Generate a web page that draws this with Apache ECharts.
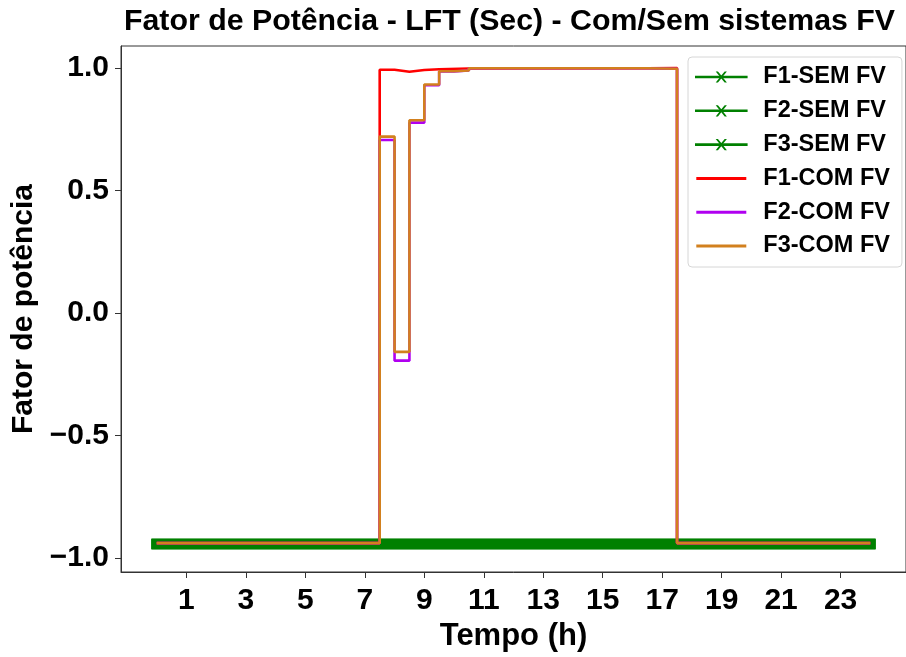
<!DOCTYPE html>
<html>
<head>
<meta charset="utf-8">
<title>Fator de Potência - LFT (Sec)</title>
<script src="https://cdn.jsdelivr.net/npm/echarts@6/dist/echarts.min.js"></script>
<style>
  html, body { margin: 0; padding: 0; background: #fff; }
  #chart { width: 906px; height: 657px; }
</style>
</head>
<body>
<div id="chart"></div>
<script>
// ticks
const xTicks = [1, 3, 5, 7, 9, 11, 13, 15, 17, 19, 21, 23]
const yTicks = [-1, -0.5, 0, 0.5, 1]

// sem FV: [hora, fp] (constante o dia todo)
const semF1 = [[0, -0.944], [24, -0.944]]
const semF2 = [[0, -0.944], [24, -0.944]]
const semF3 = [[0, -0.944], [24, -0.944]]

// com FV: degraus, valor vale a partir da hora indicada
const comF1 = [[0, -0.94], [7.5, 0.993], [8, 0.985], [8.5, 0.992], [9, 0.995], [9.5, 0.998],
  [10.5, 0.999], [16.5, 1.0], [17.5, -0.94], [24, -0.94]]
const comF2 = [[0, -0.94], [7.5, 0.706], [8, -0.195], [8.5, 0.777], [9, 0.93], [9.5, 0.986],
  [10, 0.99], [10.5, 0.999], [16.5, 0.997], [17.5, -0.94], [24, -0.94]]
const comF3 = [[0, -0.94], [7.5, 0.72], [8, -0.159], [8.5, 0.787], [9, 0.933], [9.5, 0.987],
  [10, 0.99], [10.5, 0.999], [16.5, 0.997], [17.5, -0.94], [24, -0.94]]

const font = '"Liberation Sans", Arial, sans-serif'
const xMark = 'path://M0,0L2,0L5,3.6L8,0L10,0L6,5L10,10L8,10L5,6.4L2,10L0,10L4,5Z'
const barIcon = 'path://M0,0H50V3H0Z'

const chart = echarts.init(document.getElementById('chart'))

// linha grossa verde (faixa do sem FV)
const semSerie = (name, data) => ({
  name,
  type: 'line',
  step: 'end',
  data,
  symbol: xMark,
  showSymbol: false,
  lineStyle: { width: 10.5, color: '#008000', cap: 'square' },
  itemStyle: { color: '#008000' },
  emphasis: { disabled: true },
  z: 2
})

const comSerie = (name, data, color, z) => ({
  name,
  type: 'line',
  step: 'end',
  data,
  symbol: 'none',
  showSymbol: false,
  lineStyle: { width: 2.6, color },
  itemStyle: { color },
  emphasis: { disabled: true },
  z
})

const option = {
  animation: false,
  title: {
    text: 'Fator de Potência - LFT (Sec) - Com/Sem sistemas FV',
    left: 124,
    top: 7,
    padding: 0,
    textStyle: { fontFamily: font, fontWeight: 'bold', fontSize: 30.3, color: '#000' }
  },
  grid: {
    left: 121,
    top: 46,
    right: -7,
    bottom: 85,
    show: true,
    borderColor: '#333',
    borderWidth: 1
  },
  legend: {
    orient: 'vertical',
    left: 688,
    top: 57,
    padding: [8, 12, 9, 7],
    itemWidth: 50,
    itemHeight: 14,
    itemGap: 9.8,
    backgroundColor: 'rgba(255,255,255,0.85)',
    borderColor: '#d6d6d6',
    borderWidth: 1,
    borderRadius: 4,
    lineStyle: { width: 2.6 },
    textStyle: {
      fontFamily: font, fontWeight: 'bold', fontSize: 23.5, lineHeight: 22,
      color: '#000', padding: [0, 0, 0, 12]
    },
    data: [
      { name: 'F1-SEM FV' },
      { name: 'F2-SEM FV' },
      { name: 'F3-SEM FV' },
      { name: 'F1-COM FV', icon: barIcon },
      { name: 'F2-COM FV', icon: barIcon },
      { name: 'F3-COM FV', icon: barIcon }
    ]
  },
  xAxis: {
    type: 'value',
    min: -1.2,
    max: 25.2,
    name: 'Tempo (h)',
    nameLocation: 'middle',
    nameGap: 46,
    nameTextStyle: { fontFamily: font, fontWeight: 'bold', fontSize: 31, color: '#000' },
    axisLine: { show: true, onZero: false, lineStyle: { color: '#333', width: 1 } },
    axisTick: { show: true, length: 6, customValues: xTicks, lineStyle: { color: '#333' } },
    axisLabel: {
      customValues: xTicks,
      margin: 14,
      fontFamily: font, fontWeight: 'bold', fontSize: 30, color: '#000'
    },
    splitLine: { show: false }
  },
  yAxis: {
    type: 'value',
    min: -1.058,
    max: 1.09,
    name: 'Fator de potência',
    nameLocation: 'middle',
    nameGap: 73,
    nameTextStyle: { fontFamily: font, fontWeight: 'bold', fontSize: 30, color: '#000' },
    axisLine: { show: true, onZero: false, lineStyle: { color: '#333', width: 1 } },
    axisTick: { show: true, length: 6, customValues: yTicks, lineStyle: { color: '#333' } },
    axisLabel: {
      customValues: yTicks,
      margin: 12,
      fontFamily: font, fontWeight: 'bold', fontSize: 30, color: '#000',
      formatter: v => (v < 0 ? '\u2212' : '') + Math.abs(v).toFixed(1)
    },
    splitLine: { show: false }
  },
  series: [
    semSerie('F1-SEM FV', semF1),
    semSerie('F2-SEM FV', semF2),
    semSerie('F3-SEM FV', semF3),
    comSerie('F1-COM FV', comF1, '#ff0000', 3),
    comSerie('F2-COM FV', comF2, '#b000f0', 4),
    comSerie('F3-COM FV', comF3, '#d2801e', 5)
  ]
}

chart.setOption(option)
</script>
</body>
</html>
